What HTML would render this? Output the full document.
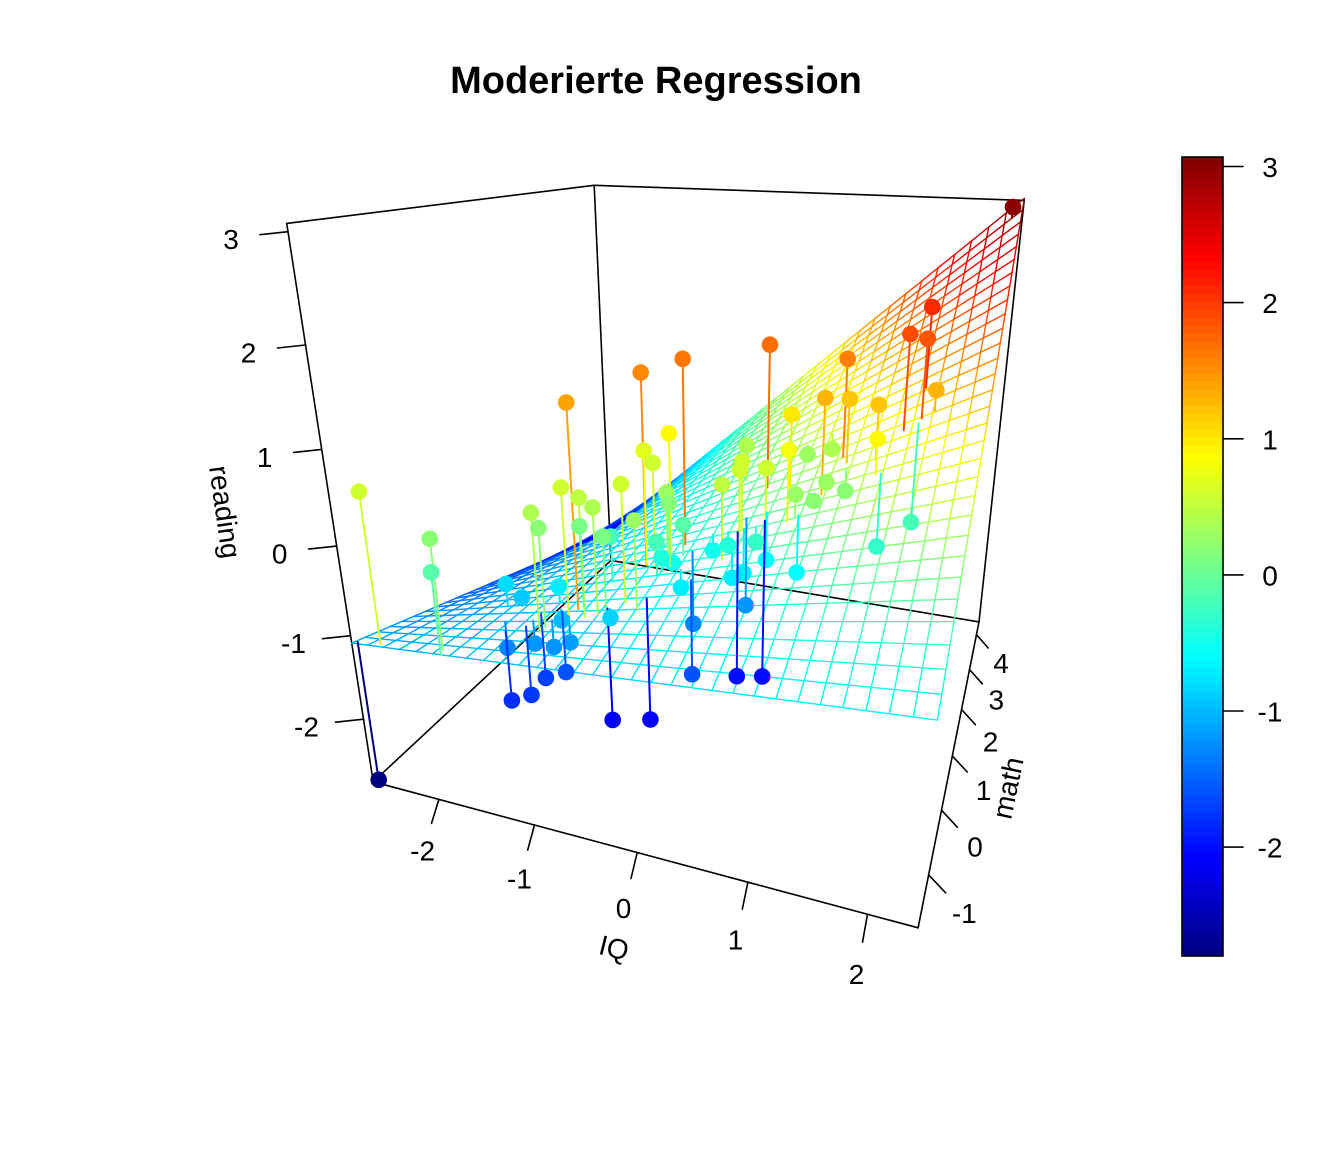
<!DOCTYPE html>
<html><head><meta charset="utf-8"><title>Moderierte Regression</title>
<style>
html,body{margin:0;padding:0;background:#fff;}
svg{display:block;font-family:"Liberation Sans",Arial,sans-serif;}
</style></head>
<body>
<svg id="chart" width="1344" height="1152" viewBox="0 0 1344 1152" xmlns="http://www.w3.org/2000/svg">
<rect x="0" y="0" width="1344" height="1152" fill="#fff"/>
<text x="656" y="93" text-anchor="middle" font-size="38" font-weight="bold" fill="#000">Moderierte Regression</text>
<g id="box"></g>
<g id="surface"></g>
<g id="points"></g>
<g id="axes"></g>
<g id="colorbar"></g>
</svg>
<script>
// ---- data (IQ, math, reading) ----
const iqVals = [-2.70,2.30,1.76,1.64,1.79,1.90,0.36,-0.26,-0.55,-0.93,1.09,1.00,1.15,0.63,1.44,-0.33,0.04,-0.56,-0.45,-0.93,-0.79,-0.68,-0.49,0.30,1.48,0.63,0.88,-2.45,-1.83,-1.79,-1.11,-1.10,-0.31,-0.89,-0.80,-0.60,-0.32,0.25,0.35,0.56,0.75,1.00,1.17,0.81,0.95,1.53,1.77,0.84,0.49,0.32,0.25,0.00,-1.78,-1.59,-1.20,-1.57,-1.29,-1.10,-0.96,-1.11,-1.28,-1.08,-1.46,-1.30,-0.63,-0.30,-0.60,-0.36,-0.20,-0.13,-0.12,0.04,0.27,0.51,0.29,0.16,0.44,-0.33,-0.26,-0.27];
const mathVals = [-1.65,4.20,2.00,1.45,1.53,1.57,1.28,0.50,0.17,-0.64,1.37,0.82,1.24,1.11,1.13,0.28,1.65,0.21,0.15,-0.85,-0.80,-0.76,-0.55,0.54,0.90,1.89,1.90,-1.65,-1.60,-1.70,-1.10,-1.00,0.12,-0.60,-0.10,-0.75,-0.70,0.05,0.28,0.43,0.50,1.04,1.12,0.56,0.70,0.89,1.47,0.57,0.76,0.55,0.39,0.58,-0.45,-0.50,-0.47,-0.90,-0.87,-0.86,-0.79,-0.64,-0.72,-0.68,-1.10,-1.00,-0.65,-0.50,-0.66,-0.05,0.26,-0.03,0.30,-0.24,0.51,0.61,0.75,0.56,0.54,0.00,0.12,0.07];
const readingVals = [-2.80,3.00,2.10,1.90,1.85,1.30,1.70,1.65,1.55,1.40,1.60,1.30,1.20,1.00,1.20,0.90,0.40,0.70,0.60,0.60,0.50,0.40,0.60,0.60,0.90,0.30,0.40,0.60,0.20,-0.10,0.40,0.20,0.30,0.10,-0.20,0.10,0.30,0.50,0.60,0.60,0.80,0.30,0.20,0.30,0.20,-0.30,-0.20,-0.60,-0.60,-0.70,-0.70,-0.50,-0.80,-0.90,-0.70,-1.30,-1.20,-1.20,-1.15,-1.00,-1.70,-1.60,-1.80,-1.75,-2.10,-2.10,-0.85,-0.20,-0.10,-0.70,-1.30,-1.60,-2.00,-2.00,-1.20,-0.40,-0.30,-0.40,-0.50,0.20];
// regression: reading = b0 + b1*IQ + b2*math + b3*IQ*math
const surfaceCoef = [-0.44, 0.36, 0.23, 0.157];
const iqTicks = [-2,-1,0,1,2];
const mathTicks = [-1,0,1,2,3,4];
const readingTicks = [-2,-1,0,1,2,3];
const colorTicks = [-2,-1,0,1,2,3];
const iqRange = [-2.73, 2.40];
const mathRange = [-1.70, 4.40];
const zRange = [-2.80, 3.07];

// ---- camera calibration (box landmarks -> screen) ----
const calib = [
 [iqRange[0],mathRange[0],zRange[0],372.5,780],[iqRange[0],mathRange[0],zRange[1],288,223],
 [iqRange[0],mathRange[1],zRange[0],610,560],[iqRange[0],mathRange[1],zRange[1],595,187],
 [iqRange[1],mathRange[1],zRange[0],980,622],[iqRange[1],mathRange[1],zRange[1],1024,199],
 [iqRange[1],mathRange[0],zRange[0],917,925],
 [-2,mathRange[0],zRange[0],442,799],[-1,mathRange[0],zRange[0],537,826],[0,mathRange[0],zRange[0],639,853],[1,mathRange[0],zRange[0],750,882],[2,mathRange[0],zRange[0],869,915],
 [iqRange[1],-1,zRange[0],925,877],[iqRange[1],0,zRange[0],940.6,812],[iqRange[1],1,zRange[0],951,757],[iqRange[1],2,zRange[0],962,709],[iqRange[1],3,zRange[0],969,668],[iqRange[1],4,zRange[0],977,635],
 [iqRange[0],mathRange[0],3,288,232],[iqRange[0],mathRange[0],2,305,344],[iqRange[0],mathRange[0],1,321,449],[iqRange[0],mathRange[0],0,336,546],[iqRange[0],mathRange[0],-1,349,637],[iqRange[0],mathRange[0],-2,361,719]
];
function fitDLT(c){
  const M=[],b=[];for(let i=0;i<11;i++){M.push(new Array(11).fill(0));b.push(0);}
  function add(row,val){for(let i=0;i<11;i++){b[i]+=row[i]*val;for(let j=0;j<11;j++)M[i][j]+=row[i]*row[j];}}
  c.forEach(([X,Y,Z,u,v])=>{
    add([X,Y,Z,1,0,0,0,0,-u*X,-u*Y,-u*Z],u);
    add([0,0,0,0,X,Y,Z,1,-v*X,-v*Y,-v*Z],v);
  });
  const n=11;
  for(let i=0;i<n;i++){
    let piv=i;for(let r=i+1;r<n;r++)if(Math.abs(M[r][i])>Math.abs(M[piv][i]))piv=r;
    [M[i],M[piv]]=[M[piv],M[i]];[b[i],b[piv]]=[b[piv],b[i]];
    for(let r=i+1;r<n;r++){const f=M[r][i]/M[i][i];for(let k=i;k<n;k++)M[r][k]-=f*M[i][k];b[r]-=f*b[i];}
  }
  const x=new Array(n).fill(0);
  for(let i=n-1;i>=0;i--){let s=b[i];for(let k=i+1;k<n;k++)s-=M[i][k]*x[k];x[i]=s/M[i][i];}
  return x;
}
const p = fitDLT(calib);
function proj(x,y,z){const w=p[8]*x+p[9]*y+p[10]*z+1;return [(p[0]*x+p[1]*y+p[2]*z+p[3])/w,(p[4]*x+p[5]*y+p[6]*z+p[7])/w];}

// ---- colors (jet.col) ----
const jetStops=[[0,0,127],[0,0,255],[0,127,255],[0,255,255],[127,255,127],[255,255,0],[255,127,0],[255,0,0],[127,0,0]];
function jet(v){
  let t=(v-zRange[0])/(zRange[1]-zRange[0]);t=Math.max(0,Math.min(1,t));
  const s=t*(jetStops.length-1);const i=Math.min(jetStops.length-2,Math.floor(s));const f=s-i;
  const a=jetStops[i],c=jetStops[i+1];
  return 'rgb('+[0,1,2].map(k=>Math.round(a[k]+(c[k]-a[k])*f)).join(',')+')';
}
function surf(x,y){return surfaceCoef[0]+surfaceCoef[1]*x+surfaceCoef[2]*y+surfaceCoef[3]*x*y;}

const NS='http://www.w3.org/2000/svg';
function mk(tag,attrs,parent){const e=document.createElementNS(NS,tag);for(const k in attrs)e.setAttribute(k,attrs[k]);parent.appendChild(e);return e;}
function line(g,a,b,stroke,w){return mk('line',{x1:a[0].toFixed(1),y1:a[1].toFixed(1),x2:b[0].toFixed(1),y2:b[1].toFixed(1),stroke:stroke,'stroke-width':w,'stroke-linecap':'round'},g);}

// ---- box ----
const gBox=document.getElementById('box');
const [x0,x1]=iqRange,[y0,y1]=mathRange,[z0,z1]=zRange;
const boxEdges=[
 [[x0,y0,z1],[x0,y1,z1]],[[x0,y1,z1],[x1,y1,z1]],[[x0,y1,z1],[x0,y1,z0]],[[x1,y1,z1],[x1,y1,z0]],
 [[x0,y0,z1],[x0,y0,z0]],[[x0,y0,z0],[x0,y1,z0]],[[x0,y1,z0],[x1,y1,z0]],[[x0,y0,z0],[x1,y0,z0]],[[x1,y0,z0],[x1,y1,z0]]
];
boxEdges.forEach(e=>{
  const l=line(gBox,proj(...e[0]),proj(...e[1]),'#000',1.6);
  
  
});

// ---- surface mesh ----
const gS=document.getElementById('surface');
const N=30;
for(let i=0;i<=N;i++){
  for(let j=0;j<N;j++){
    const xi=x0+(x1-x0)*i/N, ya=y0+(y1-y0)*j/N, yb=y0+(y1-y0)*(j+1)/N;
    const za=surf(xi,ya),zb=surf(xi,yb);
    const l1=line(gS,proj(xi,ya,za),proj(xi,yb,zb),jet((za+zb)/2),1.4);
    
    
    const yi=y0+(y1-y0)*i/N, xa=x0+(x1-x0)*j/N, xb=x0+(x1-x0)*(j+1)/N;
    const zc=surf(xa,yi),zd=surf(xb,yi);
    const l2=line(gS,proj(xa,yi,zc),proj(xb,yi,zd),jet((zc+zd)/2),1.4);
    
    
  }
}

// ---- points with drop lines ----
const gP=document.getElementById('points');
for(let k=0;k<iqVals.length;k++){
  const x=iqVals[k],y=mathVals[k],z=readingVals[k];
  const col=jet(z);
  const top=proj(x,y,z),bot=proj(x,y,surf(x,y));
  const dl=line(gP,top,bot,col,2);
  
  
  const c=mk('circle',{cx:top[0].toFixed(1),cy:top[1].toFixed(1),r:8.3,fill:col},gP);
  
  
}

// ---- axes ticks & labels ----
const gA=document.getElementById('axes');
function txt(g,x,y,s,size,extra){const t=mk('text',Object.assign({x:x.toFixed(1),y:y.toFixed(1),'font-size':size,'text-anchor':'middle','dominant-baseline':'central',fill:'#000'},extra||{}),g);t.textContent=s;return t;}
iqTicks.forEach((v,i)=>{
  const a=proj(v,y0,z0);const f=i/(iqTicks.length-1);
  const d=[-7.4+2.4*f,24+4*f];
  const l=line(gA,a,[a[0]+d[0],a[1]+d[1]],'#000',1.6);
  
  
  const t=txt(gA,a[0]+d[0]*2.2,a[1]+d[1]*2.15,String(v),28);
  
  
});
mathTicks.forEach((v,i)=>{
  const a=proj(x1,v,z0);const f=i/(mathTicks.length-1);
  const d=[17-5.3*f,18-4.7*f];
  const l=line(gA,a,[a[0]+d[0],a[1]+d[1]],'#000',1.6);
  
  
  const t=txt(gA,a[0]+d[0]*2.1,a[1]+d[1]*2.15,String(v),28);
  
  
});
readingTicks.forEach((v)=>{
  const a=proj(x0,y0,v);const d=[-28,3];
  const l=line(gA,a,[a[0]+d[0],a[1]+d[1]],'#000',1.6);
  
  
  const t=txt(gA,a[0]-57,a[1]+8,String(v),28);
  
  
});
const tIQ=txt(gA,614,948,'IQ',28,{transform:'rotate(14 614 948)'});


const tM=txt(gA,1008,788,'math',28,{transform:'rotate(-78 1008 788)'});


const tR=txt(gA,225,512,'reading',28,{transform:'rotate(82 225 512)'});



// ---- colorbar ----
const gC=document.getElementById('colorbar');
const cbTop=157,cbBot=956,cbX=1182,cbW=41;
function cbY(v){return cbBot-(v-zRange[0])/(zRange[1]-zRange[0])*(cbBot-cbTop);}
const nBands=100;
for(let i=0;i<nBands;i++){
  const va=zRange[0]+(zRange[1]-zRange[0])*i/nBands, vb=zRange[0]+(zRange[1]-zRange[0])*(i+1)/nBands;
  const r=mk('rect',{x:cbX,y:cbY(vb).toFixed(2),width:cbW,height:(cbY(va)-cbY(vb)+0.6).toFixed(2),fill:jet((va+vb)/2)},gC);
  
  
}
const frame=mk('rect',{x:cbX,y:cbTop,width:cbW,height:cbBot-cbTop,fill:'none',stroke:'#000','stroke-width':1.6},gC);


colorTicks.forEach(v=>{
  const y=cbY(v);
  const l=line(gC,[cbX+cbW,y],[cbX+cbW+20,y],'#000',1.6);
  
  
  const t=txt(gC,1270,y+1,String(v),28);
  
  
});
</script>
</body></html>
